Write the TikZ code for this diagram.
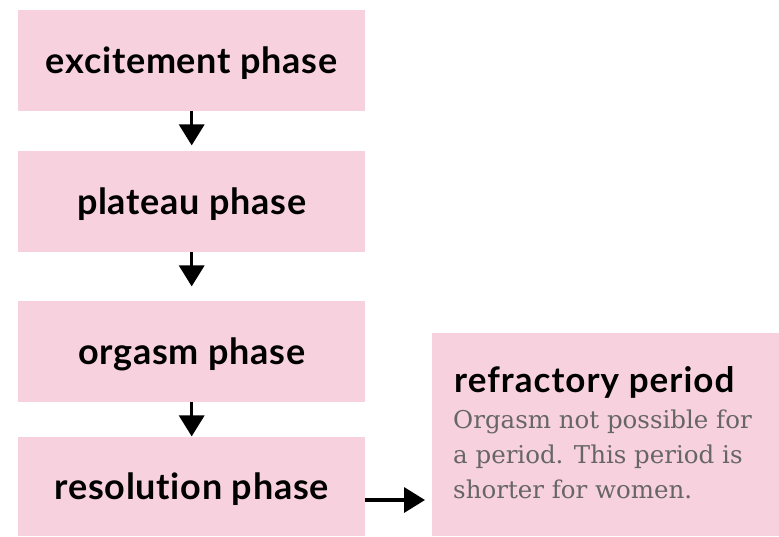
\documentclass[tikz,border=0pt]{standalone}
\usepackage{fontspec}
\setmainfont{Lato}[Ligatures=NoCommon]
\newfontfamily\notefont{DejaVu Serif}
\usetikzlibrary{arrows.meta}

\definecolor{phasepink}{HTML}{F8D1DF}
\definecolor{notegray}{HTML}{666666}

\tikzset{
  phasebox/.style={fill=phasepink, minimum width=347pt, minimum height=101pt,
    inner sep=0pt, text height=26pt, text depth=0pt,
    font=\addfontfeatures{LetterSpace=2}\bfseries\fontsize{36}{40}\selectfont},
  phasearrow/.style={line width=3.5pt, -{Triangle[length=21pt,width=25pt]}},
}

\begin{document}
\begin{tikzpicture}[x=1pt,y=-1pt]

\useasboundingbox (0,0) rectangle (779,536);

% Phases
\node[phasebox, anchor=north west] (excite) at (18,10) {excitement phase};
\node[phasebox, anchor=north west] (plateau) at (18,151) {plateau phase};
\node[phasebox, anchor=north west] (orgasm) at (18,301) {orgasm phase};
\node[phasebox, anchor=north west, minimum height=99pt] (resol) at (18,437) {resolution phase};

% Refractory period
\node[fill=phasepink, anchor=north west, minimum width=347pt, minimum height=203pt,
  inner sep=0pt] (refrac) at (432,333) {};
\node[anchor=base west, inner sep=0pt,
  font=\addfontfeatures{LetterSpace=3}\bfseries\fontsize{35}{40}\selectfont]
  (refractitle) at (454,392) {refractory period};
\node[anchor=north west, inner sep=0pt, align=left, text=notegray,
  font=\notefont\fontsize{24.5}{34.7}\selectfont]
  (refracnote) at (453,410) {Orgasm not possible for\\a period. This period is\\shorter for women.};

% Arrows
\draw[phasearrow] (excite.south) -- ++(0,34);
\draw[phasearrow] (plateau.south) -- ++(0,34);
\draw[phasearrow] (orgasm.south) -- ++(0,34);
\draw[phasearrow] (resol.east |- 0,500) -- (425,500);

\end{tikzpicture}
\end{document}
